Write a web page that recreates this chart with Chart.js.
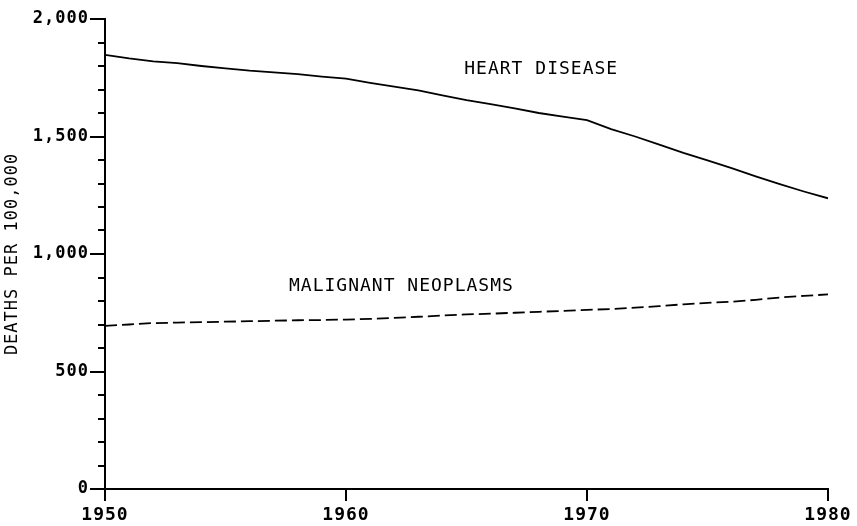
<!DOCTYPE html>
<html>
<head>
<meta charset="utf-8">
<style>
  html, body { margin: 0; padding: 0; background: #ffffff; }
  #wrap { width: 857px; height: 526px; }
</style>
<script src="https://cdn.jsdelivr.net/npm/chart.js@4.4.1/dist/chart.umd.min.js"></script>
</head>
<body>
<div id="wrap"><canvas id="chart" width="857" height="526"></canvas></div>
<script>
// Death rates per 100,000, 1950-1980
const years = [1950, 1951, 1952, 1953, 1954, 1955, 1956, 1957, 1958, 1959,
               1960, 1961, 1962, 1963, 1964, 1965, 1966, 1967, 1968, 1969,
               1970, 1971, 1972, 1973, 1974, 1975, 1976, 1977, 1978, 1979, 1980];
const heartDisease = [1847, 1832, 1820, 1812, 1800, 1790, 1780, 1773, 1765, 1755,
                      1746, 1728, 1712, 1696, 1675, 1655, 1638, 1620, 1600, 1585,
                      1570, 1531, 1500, 1465, 1430, 1398, 1365, 1330, 1297, 1266, 1237];
const neoplasms = [694, 700, 706, 708, 710, 712, 714, 716, 718, 719,
                   721, 724, 728, 733, 738, 743, 746, 750, 754, 758,
                   762, 766, 772, 778, 786, 792, 797, 805, 815, 822, 828];
const seriesNames = ['HEART DISEASE', 'MALIGNANT NEOPLASMS'];
const xTicks = [1950, 1960, 1970, 1980];
const yTickLabels = { 0: '0', 500: '500', 1000: '1,000', 1500: '1,500', 2000: '2,000' };
const yAxisTitle = 'DEATHS PER 100,000';

const MONO = '"DejaVu Sans Mono", "Liberation Mono", monospace';

// Wide plotter-style lettering
const spacingPlugin = {
  id: 'spacing',
  beforeUpdate(chart) { chart.ctx.letterSpacing = '1px'; },
  beforeDraw(chart) { chart.ctx.letterSpacing = '1px'; }
};

// Short minor ticks every 100 on the value axis
const minorTicks = {
  id: 'minorTicks',
  afterDraw(chart) {
    const y = chart.scales.y;
    const left = chart.chartArea.left;
    const ctx = chart.ctx;
    ctx.save();
    ctx.strokeStyle = '#000';
    ctx.lineWidth = 2;
    for (let v = 100; v < 2000; v += 100) {
      if (v % 500 === 0) continue;
      const py = Math.round(y.getPixelForValue(v));
      ctx.beginPath();
      ctx.moveTo(left - 7, py);
      ctx.lineTo(left + 1, py);
      ctx.stroke();
    }
    ctx.restore();
  }
};

// Series names written beside their curves
const seriesLabels = {
  id: 'seriesLabels',
  afterDatasetsDraw(chart, args, opts) {
    const ctx = chart.ctx;
    const xs = chart.scales.x, ys = chart.scales.y;
    ctx.save();
    ctx.letterSpacing = '1px';
    ctx.fillStyle = '#000';
    ctx.font = '18px ' + MONO;
    ctx.textAlign = 'center';
    ctx.textBaseline = 'middle';
    opts.items.forEach(it => {
      ctx.fillText(it.text, xs.getPixelForValue(it.x), ys.getPixelForValue(it.y));
    });
    ctx.restore();
  }
};

new Chart(document.getElementById('chart'), {
  type: 'line',
  data: {
    datasets: [
      {
        label: seriesNames[0],
        data: years.map((yr, i) => ({ x: yr, y: heartDisease[i] })),
        borderColor: '#000',
        borderWidth: 1.8,
        pointRadius: 0,
        tension: 0,
        fill: false
      },
      {
        label: seriesNames[1],
        data: years.map((yr, i) => ({ x: yr, y: neoplasms[i] })),
        borderColor: '#000',
        borderWidth: 1.8,
        borderDash: [12, 5],
        pointRadius: 0,
        tension: 0,
        fill: false
      }
    ]
  },
  options: {
    responsive: false,
    animation: false,
    layout: { padding: { top: 19, right: 29, left: 0, bottom: 0 } },
    plugins: {
      legend: { display: false },
      tooltip: { enabled: false },
      seriesLabels: {
        items: [
          { text: seriesNames[0], x: 1968.1, y: 1787 },
          { text: seriesNames[1], x: 1962.3, y: 864 }
        ]
      }
    },
    scales: {
      x: {
        type: 'linear',
        min: 1950,
        max: 1980,
        afterBuildTicks(scale) { scale.ticks = xTicks.map(v => ({ value: v })); },
        afterFit(scale) { scale.height = 37; },
        ticks: {
          color: '#000',
          font: { family: MONO, size: 18, weight: 'bold' },
          padding: 4,
          maxRotation: 0,
          callback: v => String(v)
        },
        grid: {
          drawOnChartArea: false,
          drawTicks: true,
          tickLength: 12,
          tickWidth: 2,
          tickColor: '#000',
          color: '#000',
          lineWidth: 2
        },
        border: { display: true, color: '#000', width: 2 }
      },
      y: {
        min: 0,
        max: 2000,
        afterBuildTicks(scale) {
          scale.ticks = Object.keys(yTickLabels).map(k => ({ value: Number(k) }));
        },
        afterFit(scale) { scale.width = 105; },
        ticks: {
          color: '#000',
          font: { family: MONO, size: 17, weight: 'bold' },
          padding: 1,
          callback: v => yTickLabels[v]
        },
        grid: {
          drawOnChartArea: false,
          drawTicks: true,
          tickLength: 15,
          tickWidth: 2,
          tickColor: '#000',
          color: '#000',
          lineWidth: 2
        },
        border: { display: true, color: '#000', width: 2 },
        title: {
          display: true,
          text: yAxisTitle,
          color: '#000',
          font: { family: MONO, size: 17 },
          padding: { top: 2, bottom: 0 }
        }
      }
    }
  },
  plugins: [spacingPlugin, minorTicks, seriesLabels]
});
</script>
</body>
</html>
